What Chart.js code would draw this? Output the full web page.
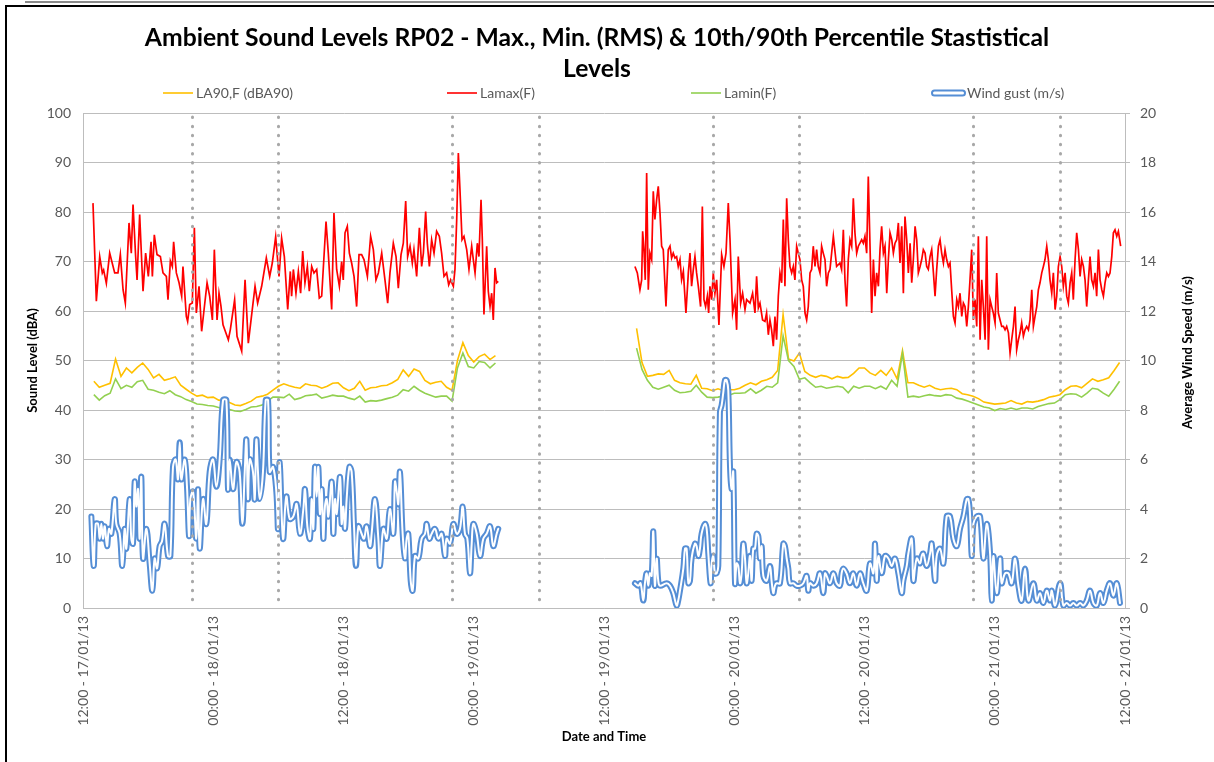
<!DOCTYPE html>
<html>
<head>
<meta charset="utf-8">
<script src="https://cdn.jsdelivr.net/npm/chart.js@4.4.1/dist/chart.umd.min.js"></script>
<style>
html,body{margin:0;padding:0;background:#fff;}
#wrap{position:relative;width:1214px;height:762px;overflow:hidden;background:#fff;}
#c{position:absolute;left:0;top:0;}
.rule{position:absolute;}
</style>
</head>
<body>
<div id="wrap">
<canvas id="c" width="1214" height="762"></canvas>
<div class="rule" style="left:25px;top:1px;width:1189px;height:2px;background:#8a8a8a"></div>
<div class="rule" style="left:5px;top:5px;width:1209px;height:2px;background:#000"></div>
<div class="rule" style="left:5px;top:5px;width:2px;height:757px;background:#000"></div>
</div>
<script>
// Time is in hours after 12:00 on 17/01/13.
// ---- x tick labels (every 12 h) ----
const xTickLabels = ["12:00 - 17/01/13","00:00 - 18/01/13","12:00 - 18/01/13","00:00 - 19/01/13",
  "12:00 - 19/01/13","00:00 - 20/01/13","12:00 - 20/01/13","00:00 - 21/01/13","12:00 - 21/01/13"];

// ---- night period boundaries (22:00 / 06:00), hours ----
const nightBoundaries = [10, 18, 34, 42, 58, 66, 82, 90];

// ---- 30-minute grid used by LA90 / Lamin ----
const gridStartLeft = 1.0, gridStartRight = 51.0, gridStep = 0.5;

// ---- LA90,F (dBA) ----
const la90Left = [45.8,44.6,45.0,45.4,50.3,46.8,48.5,47.5,48.6,49.5,48.2,46.5,47.2,46.0,46.3,46.7,45.0,44.2,43.4,42.8,
  43.0,42.5,42.6,42.0,41.9,41.5,41.0,40.9,41.3,41.8,42.6,42.8,43.2,44.0,44.8,45.3,44.9,
  44.6,44.4,45.3,45.0,44.9,44.4,44.8,45.4,45.5,44.5,43.9,44.4,45.8,44.0,44.5,44.6,44.9,45.0,45.5,46.2,
  48.1,46.8,48.3,47.8,46.0,45.3,45.6,45.8,44.6,44.0,50.0,53.6,51.0,49.7,50.8,51.3,50.2,51.0];
const la90Right = [56.5,49.6,46.8,47.0,47.3,47.2,48.0,46.0,45.5,45.3,45.2,47.0,44.4,44.3,43.9,44.3,43.9,44.1,44.1,44.4,
  45.0,45.5,45.1,45.8,46.1,46.6,48.0,59.3,50.3,49.9,51.5,47.8,47.0,46.6,47.0,46.8,46.3,46.8,46.5,46.6,
  47.4,48.5,48.5,47.5,47.0,48.0,47.0,48.5,46.3,52.0,45.5,45.5,45.0,44.6,45.0,44.4,44.1,44.3,44.4,44.1,
  43.3,43.1,42.8,42.3,41.6,41.4,41.2,41.3,41.4,41.9,41.4,41.2,41.7,41.6,41.8,42.1,42.6,42.8,43.1,44.1,
  44.8,44.9,44.5,45.4,46.3,45.8,46.1,46.5,48.0,49.6];

// ---- Lamin(F) (dBA) ----
const laminLeft = [43.1,42.0,42.9,43.4,46.3,44.3,45.0,44.6,45.7,46.0,44.2,44.0,43.6,43.3,43.9,43.1,42.7,42.1,41.7,41.2,
  41.1,40.9,40.8,40.5,40.3,40.1,39.8,39.7,40.1,40.6,40.7,41.0,41.8,42.6,42.6,42.5,43.2,
  42.1,42.4,42.9,43.0,43.2,42.4,42.7,43.0,42.8,42.8,42.4,42.1,42.8,41.6,41.9,41.8,42.0,42.3,42.6,43.0,
  44.1,43.8,44.8,44.0,43.4,43.0,42.6,42.8,42.8,41.8,48.5,51.5,48.8,48.5,49.8,49.6,48.5,49.5];
const laminRight = [52.5,48.2,46.0,44.6,44.2,44.6,45.0,44.0,43.5,43.6,43.8,45.0,43.6,42.6,42.5,42.6,42.8,43.0,43.4,43.4,
  43.5,44.3,43.4,44.0,44.8,44.6,45.5,55.0,50.0,48.8,46.2,46.5,45.5,44.6,44.8,44.4,44.6,44.8,44.6,43.5,
  44.8,44.4,44.8,44.8,44.3,44.8,44.2,46.0,44.8,51.5,42.6,42.8,42.6,42.9,43.1,42.9,42.8,43.1,43.0,42.4,
  42.2,41.8,41.4,41.0,40.6,40.4,39.9,40.3,40.1,40.4,40.1,40.4,40.4,40.2,40.7,41.0,41.3,41.4,42.1,43.1,
  43.3,43.2,42.6,43.4,44.4,44.2,43.4,42.8,44.2,45.8];

// ---- Lamax(F) (dBA): read at each visible turning point ----
const lamaxHoursLeft = [0.92,1.23,1.54,1.78,1.90,2.15,2.46,2.92,3.22,3.44,
  3.69,3.90,4.24,4.45,4.61,4.85,4.98,5.22,5.53,5.77,
  6.02,6.27,6.39,6.57,6.82,7.13,7.37,7.68,7.83,8.05,
  8.23,8.35,8.60,8.85,9.09,9.21,9.52,9.64,9.83,10.07,
  10.26,10.44,10.69,10.93,11.12,11.43,11.67,11.92,12.10,12.35,
  12.53,12.71,12.90,13.39,13.57,13.97,14.19,14.62,14.93,15.23,
  15.60,15.85,16.09,16.46,16.89,17.20,17.44,17.75,18.06,18.30,
  18.55,18.86,19.10,19.22,19.38,19.62,19.84,20.05,20.24,20.45,
  20.67,20.85,21.07,21.28,21.53,21.77,21.99,22.39,22.60,22.91,
  23.12,23.37,23.62,23.83,23.98,24.14,24.35,24.54,24.75,24.97,
  25.21,25.43,25.67,25.89,26.20,26.50,26.75,26.99,27.21,27.52,
  27.82,28.07,28.28,28.59,28.84,29.05,29.30,29.51,29.73,29.91,
  30.13,30.34,30.49,30.74,30.99,31.20,31.36,31.57,31.72,31.91,
  32.12,32.34,32.58,32.83,33.04,33.26,33.50,33.69,33.87,34.12,
  34.27,34.43,34.58,34.73,34.92,35.10,35.35,35.56,35.81,35.96,
  36.12,36.33,36.48,36.67,36.79,36.94,37.19,37.34,37.50,37.65,
  37.80,37.96,38.11,38.26];
const lamaxValuesLeft = [81.8,62.0,71.0,67.7,68.3,65.6,71.7,67.7,67.7,71.4,
  64.3,61.6,77.8,71.7,81.5,71.0,66.3,79.5,64.0,71.7,
  67.0,74.0,67.0,75.4,71.4,71.0,67.7,67.0,62.3,70.1,
  69.0,74.0,67.7,65.7,63.0,69.0,58.9,57.9,61.3,61.6,
  76.8,59.6,65.0,55.9,59.6,65.7,63.0,58.2,72.4,58.2,
  63.6,61.0,57.2,54.2,56.2,62.3,54.9,51.9,66.3,53.5,
  60.4,65.0,61.6,65.0,70.7,67.0,69.7,75.0,67.0,74.7,
  71.0,60.3,68.0,63.0,68.4,63.6,68.0,63.6,72.1,65.7,
  69.0,64.0,69.0,67.7,68.4,62.6,63.0,78.1,71.7,60.3,
  79.8,68.4,65.0,70.0,66.3,75.8,77.1,71.7,69.7,67.0,
  60.9,71.4,71.4,70.4,67.0,75.1,72.4,66.3,67.7,71.7,
  66.3,61.6,67.7,73.7,71.0,64.6,71.4,73.7,82.2,71.0,
  73.1,69.7,72.4,67.0,76.8,69.0,71.7,80.1,73.7,69.0,
  74.4,71.7,76.1,75.1,71.7,67.0,67.7,65.3,66.3,65.0,
  68.4,78.5,91.9,84.5,74.4,75.1,72.4,68.4,73.1,70.4,
  67.7,73.7,71.0,82.5,74.4,59.3,73.1,64.0,60.9,63.6,
  58.2,68.7,65.7,66.0];
const lamaxHoursRight = [50.85,51.07,51.31,51.47,51.56,51.68,51.80,51.93,52.08,52.23,
  52.39,52.54,52.69,52.85,53.00,53.16,53.31,53.46,53.71,53.92,
  54.08,54.23,54.38,54.54,54.69,54.84,55.00,55.15,55.31,55.55,
  55.77,55.92,56.07,56.23,56.38,56.53,56.69,56.90,57.06,57.21,
  57.36,57.52,57.64,57.76,57.92,58.07,58.22,58.38,58.59,58.84,
  59.05,59.24,59.45,59.61,59.85,60.07,60.22,60.37,60.59,60.77,
  60.99,61.14,61.45,61.69,61.91,62.06,62.22,62.37,62.61,62.83,
  62.98,63.14,63.29,63.44,63.60,63.75,63.90,64.06,64.21,64.37,
  64.52,64.67,64.83,64.98,65.13,65.29,65.44,65.59,65.75,65.90,
  66.05,66.21,66.36,66.52,66.67,66.82,66.98,67.13,67.28,67.44,
  67.59,67.74,67.90,68.05,68.20,68.36,68.51,68.67,68.82,69.13,
  69.43,69.74,69.89,70.05,70.20,70.35,70.51,70.66,70.82,70.97,
  71.12,71.28,71.43,71.58,71.74,71.89,72.04,72.20,72.35,72.66,
  72.82,72.97,73.12,73.28,73.43,73.58,73.74,73.89,74.05,74.20,
  74.35,74.51,74.66,74.81,74.97,75.12,75.27,75.43,75.58,75.73,
  75.89,76.04,76.20,76.35,76.50,76.66,76.81,76.96,77.12,77.27,
  77.42,77.58,77.73,77.88,78.04,78.19,78.35,78.50,78.65,78.81,
  78.96,79.11,79.27,79.42,79.57,79.73,79.88,80.03,80.19,80.34,
  80.50,80.65,80.80,80.96,81.11,81.26,81.42,81.57,81.72,81.88,
  82.03,82.18,82.34,82.49,82.65,82.80,82.95,83.11,83.26,83.41,
  83.57,83.72,83.87,84.03,84.18,84.33,84.49,84.64,84.80,84.95,
  85.10,85.26,85.41,85.56,85.72,85.87,86.02,86.18,86.33,86.48,
  86.64,86.79,86.94,87.10,87.25,87.41,87.56,87.71,87.87,88.02,
  88.17,88.33,88.48,88.63,88.79,88.94,89.09,89.25,89.40,89.56,
  89.71,89.86,90.02,90.17,90.32,90.48,90.63,90.78,90.94,91.09,
  91.24,91.40,91.55,91.71,91.86,92.01,92.17,92.32,92.47,92.63,
  92.78,92.93,93.09,93.24,93.39,93.55,93.70,93.86,94.01,94.16,
  94.32,94.47,94.62,94.78,94.93,95.08,95.24,95.39,95.60];
const lamaxValuesRight = [69.0,67.7,64.3,66.3,76.1,72.4,66.3,87.9,64.3,71.7,
  70.4,84.2,78.5,82.5,85.2,79.8,73.1,72.4,60.9,72.4,
  73.1,70.7,71.7,70.7,71.0,69.0,70.4,66.3,68.0,59.6,
  67.7,71.7,65.0,68.4,71.0,67.7,65.0,60.9,81.1,62.3,
  60.9,63.0,59.6,65.0,62.3,67.7,63.6,66.3,57.2,71.4,
  69.0,71.7,81.8,74.4,59.6,62.3,56.2,71.0,61.6,63.6,
  60.3,62.3,61.6,63.6,59.6,67.0,60.6,61.6,58.2,57.9,
  59.6,55.2,58.2,56.2,52.9,58.9,54.2,63.0,67.7,65.7,
  78.5,65.0,82.8,74.4,69.0,67.7,69.0,66.3,73.1,71.7,
  70.4,66.3,65.0,59.6,58.2,60.9,67.7,68.4,73.1,69.0,
  72.4,69.0,67.7,73.1,71.7,70.4,65.0,67.7,68.4,75.1,
  69.0,69.7,68.4,76.4,66.3,60.9,70.4,74.4,73.1,82.8,
  75.8,71.7,73.1,73.7,74.4,73.7,75.1,71.7,87.2,59.6,
  70.4,63.0,67.7,65.0,72.4,77.1,71.7,73.1,63.6,70.4,
  75.8,74.4,71.7,73.7,74.4,77.8,69.7,77.1,63.6,79.1,
  74.4,67.7,73.7,65.7,70.4,77.1,74.4,67.7,69.0,70.4,
  72.4,71.7,69.0,68.4,71.0,72.4,67.7,63.0,68.4,73.1,
  74.4,71.7,69.7,72.4,70.4,69.0,69.7,64.3,58.9,57.6,
  62.3,60.9,63.6,58.9,61.6,60.9,56.9,60.9,66.3,72.4,
  58.2,62.3,56.9,75.1,54.2,66.3,60.9,54.2,75.1,52.2,
  62.3,60.9,59.6,57.6,67.7,59.6,58.2,56.9,56.9,56.2,
  56.9,55.6,51.5,54.2,56.9,60.9,52.2,54.2,55.6,57.6,
  54.9,56.2,56.9,56.2,58.2,64.3,56.9,58.9,60.9,64.3,
  65.7,67.7,69.0,70.4,73.1,70.4,66.3,63.6,67.7,60.3,
  63.0,69.0,71.0,69.0,65.0,67.7,63.0,61.6,65.7,67.7,
  62.3,70.4,75.8,72.4,67.0,70.4,69.0,66.3,60.9,66.3,
  71.0,66.3,65.0,67.7,63.0,72.4,66.3,64.3,63.0,65.7,
  67.7,67.0,67.7,71.0,75.8,76.4,75.1,76.1,73.1];

// ---- Wind gust (m/s): read at each visible turning point ----
const windHoursLeft = [0.77,0.98,1.17,1.38,1.54,1.69,1.84,2.00,2.21,2.40,
  2.61,2.92,3.07,3.38,3.62,3.84,3.99,4.30,4.45,4.61,
  4.76,4.91,5.07,5.22,5.37,5.53,5.84,6.14,6.39,6.60,
  6.82,7.06,7.28,7.52,7.83,8.05,8.29,8.54,8.75,8.91,
  9.06,9.37,9.58,9.77,9.89,10.14,10.44,10.60,10.75,11.06,
  11.36,11.67,11.98,12.29,12.59,12.90,13.21,13.36,13.51,13.82,
  14.13,14.43,14.68,14.90,15.05,15.20,15.36,15.66,15.82,15.97,
  16.12,16.28,16.58,16.83,17.05,17.20,17.51,17.81,17.97,18.12,
  18.43,18.73,19.04,19.38,19.68,19.99,20.30,20.45,20.67,20.91,
  21.07,21.22,21.37,21.53,21.68,21.83,21.99,22.14,22.29,22.45,
  22.60,22.91,23.06,23.22,23.37,23.68,23.83,23.98,24.14,24.29,
  24.54,24.75,24.97,25.15,25.37,25.67,25.89,26.13,26.44,26.59,
  26.90,27.21,27.36,27.67,27.98,28.28,28.59,28.74,28.90,29.05,
  29.20,29.45,29.67,29.82,29.97,30.19,30.37,30.59,30.89,31.20,
  31.51,31.66,31.91,32.12,32.43,32.74,33.04,33.35,33.50,33.81,
  34.12,34.43,34.73,34.98,35.19,35.41,35.65,35.81,35.96,36.27,
  36.58,36.88,37.19,37.50,37.80,38.11,38.26];
const windValuesLeft = [3.7,1.7,3.4,3.4,2.8,3.4,2.8,3.3,2.5,3.2,
  3.0,4.4,3.4,3.0,1.7,3.2,2.4,4.4,2.8,2.6,
  5.1,4.1,4.8,2.8,5.3,2.0,3.2,1.8,0.7,2.0,
  1.6,2.5,2.7,3.4,2.1,2.1,5.7,6.0,5.2,6.7,
  5.2,6.0,4.9,2.9,4.4,4.7,2.8,4.8,2.4,4.4,
  3.4,5.5,6.0,4.9,6.0,8.4,8.4,4.8,6.0,4.8,
  5.9,5.5,3.4,5.5,6.8,4.4,6.0,5.5,4.4,6.8,
  5.5,4.4,5.5,8.4,8.4,5.5,5.7,4.7,3.2,5.9,
  2.8,4.5,3.6,3.7,4.2,3.0,4.0,4.8,3.3,2.8,
  4.4,3.2,5.7,4.5,5.7,3.8,4.8,2.8,4.1,4.4,
  3.7,5.1,3.0,4.4,3.8,5.3,3.4,4.1,3.2,4.4,
  5.7,5.5,3.3,1.7,3.3,3.0,2.8,3.3,2.5,3.0,
  4.4,2.8,1.7,3.2,2.8,4.0,3.0,5.1,4.7,4.2,
  5.5,3.0,2.0,2.8,3.0,1.1,0.7,2.1,2.0,2.8,
  3.0,3.4,2.8,3.0,3.2,2.8,3.0,2.1,2.8,2.6,
  3.4,3.0,3.2,4.1,3.0,2.8,1.4,2.6,3.4,3.0,
  2.1,2.8,3.0,3.3,2.5,3.0,3.2];
const windHoursRight = [50.85,51.16,51.37,51.62,51.77,51.93,52.08,52.23,52.39,52.54,
  52.69,52.85,53.00,53.16,53.77,54.08,54.38,54.69,54.84,55.00,
  55.31,55.46,55.61,55.77,55.92,56.07,56.38,56.53,56.69,56.84,
  56.99,57.30,57.46,57.61,57.82,57.92,58.07,58.22,58.38,58.53,
  58.68,58.84,58.99,59.14,59.30,59.45,59.61,59.76,59.91,60.07,
  60.22,60.37,60.53,60.68,60.83,60.99,61.14,61.29,61.45,61.60,
  61.75,61.91,62.06,62.22,62.37,62.52,62.68,62.98,63.29,63.44,
  63.60,63.75,63.90,64.21,64.52,64.67,64.83,64.98,65.13,65.44,
  65.75,66.05,66.36,66.67,66.82,66.98,67.28,67.59,67.90,68.20,
  68.36,68.51,68.82,69.13,69.43,69.74,69.89,70.05,70.35,70.66,
  70.97,71.28,71.58,71.89,72.20,72.51,72.82,72.97,73.12,73.28,
  73.58,73.89,74.20,74.51,74.81,75.12,75.43,75.58,75.89,76.04,
  76.35,76.50,76.81,77.12,77.27,77.42,77.73,78.04,78.19,78.50,
  78.65,78.96,79.27,79.57,79.88,80.19,80.50,80.80,81.11,81.42,
  81.57,81.72,81.88,82.03,82.34,82.65,82.95,83.26,83.57,83.72,
  83.87,84.18,84.49,84.64,84.95,85.26,85.56,85.87,86.18,86.48,
  86.79,87.10,87.56,87.87,88.17,88.48,88.79,89.09,89.25,89.56,
  90.02,90.32,90.63,90.94,91.24,91.55,91.86,92.17,92.47,92.78,
  93.09,93.40,93.70,94.01,94.32,94.62,94.93,95.24,95.54];
const windValuesRight = [1.0,0.9,1.0,0.3,1.0,1.4,0.9,1.4,1.3,3.1,
  0.9,2.0,1.1,0.9,1.0,0.9,0.6,0.1,0.3,0.7,
  1.6,2.4,2.4,1.0,1.1,2.0,2.6,2.5,2.1,2.4,
  3.0,3.4,3.2,2.2,1.0,1.8,2.1,1.4,1.4,1.7,
  7.9,8.2,8.7,9.2,9.2,8.8,5.7,4.8,5.5,1.0,
  1.8,1.7,1.0,1.4,2.6,2.0,1.0,1.4,2.1,1.1,
  2.4,2.4,3.0,2.9,2.0,2.5,1.3,1.1,1.7,1.1,
  0.6,0.9,1.0,1.0,2.6,2.5,2.0,1.6,1.0,1.0,
  0.9,0.9,1.0,1.3,0.7,1.0,0.9,1.0,1.4,0.6,
  1.4,1.3,1.0,1.4,1.0,0.9,1.4,1.6,1.4,1.0,
  1.4,0.9,1.4,1.0,0.7,1.8,1.4,2.6,1.1,2.1,
  1.4,2.1,2.0,1.7,2.0,1.4,0.6,1.1,1.7,2.2,
  2.8,1.1,2.0,1.8,2.1,2.2,1.7,2.2,2.6,1.1,
  2.1,2.4,1.8,3.7,3.7,2.8,2.5,3.2,3.7,4.4,
  4.4,3.8,2.1,3.4,3.7,3.7,2.0,3.4,2.2,0.3,
  2.1,0.6,2.0,1.0,1.4,1.4,1.0,2.0,0.9,0.3,
  1.6,0.3,1.0,0.3,0.6,0.2,0.7,0.3,0.7,0.1,
  1.0,0.1,0.2,0.1,0.2,0.1,0.2,0.1,0.3,0.7,
  0.2,0.1,0.6,0.2,0.7,1.0,0.5,1.0,0.2];

const GAP_AT = 44.5;

function gridPoints(left, right) {
  const pts = left.map((v, i) => ({x: gridStartLeft + i * gridStep, y: v}));
  pts.push({x: GAP_AT, y: null});
  right.forEach((v, i) => pts.push({x: gridStartRight + i * gridStep, y: v}));
  return pts;
}
function pairPoints(hL, vL, hR, vR) {
  const pts = [];
  const nL = Math.min(hL.length, vL.length), nR = Math.min(hR.length, vR.length);
  for (let i = 0; i < nL; i++) pts.push({x: hL[i], y: vL[i]});
  pts.push({x: GAP_AT, y: null});
  for (let i = 0; i < nR; i++) pts.push({x: hR[i], y: vR[i]});
  return pts;
}

const FONT = "Lato, 'Open Sans', 'Liberation Sans', sans-serif";
const TICK_COLOR = '#595959';
const GRID_COLOR = '#BDBDBD';

const windPoints = pairPoints(windHoursLeft, windValuesLeft, windHoursRight, windValuesRight);

const overlayPlugin = {
  id: 'overlay',
  afterDatasetsDraw(chart) {
    const {ctx, chartArea, scales} = chart;
    ctx.save();
    ctx.strokeStyle = '#A8A8A8';
    ctx.lineWidth = 3;
    ctx.lineCap = 'round';
    ctx.setLineDash([0.5, 8.6]);
    nightBoundaries.forEach(h => {
      const px = Math.round(scales.x.getPixelForValue(h)) + 0.5;
      ctx.beginPath();
      ctx.moveTo(px, chartArea.top + 4);
      ctx.lineTo(px, chartArea.bottom);
      ctx.stroke();
    });
    ctx.restore();
  },
  afterDraw(chart) {
    const {ctx} = chart;
    const ds = chart.data.datasets;
    const itemX = [163, 447, 691, 932];
    const y = 93;
    ctx.save();
    ctx.font = '14px ' + FONT;
    ctx.textBaseline = 'middle';
    ctx.textAlign = 'left';
    for (let i = 0; i < 4; i++) {
      const d = ds[i];
      const x0 = itemX[i];
      if (i === 3) {
        ctx.beginPath();
        ctx.lineWidth = 2;
        ctx.strokeStyle = d.borderColor;
        ctx.fillStyle = '#fff';
        ctx.roundRect(x0, y - 2.5, 33, 5, 2.5);
        ctx.fill();
        ctx.stroke();
        ctx.fillStyle = TICK_COLOR;
        ctx.fillText(d.label, x0 + 35, y);
      } else {
        ctx.beginPath();
        ctx.lineWidth = 1.6;
        ctx.strokeStyle = d.borderColor;
        ctx.moveTo(x0, y);
        ctx.lineTo(x0 + 30, y);
        ctx.stroke();
        ctx.fillStyle = TICK_COLOR;
        ctx.fillText(d.label, x0 + 33, y);
      }
    }
    // right axis title (reads bottom-to-top)
    ctx.translate(1188, (chart.chartArea.top + chart.chartArea.bottom) / 2 - 8);
    ctx.rotate(-Math.PI / 2);
    ctx.font = 'bold 13px ' + FONT;
    ctx.fillStyle = '#000';
    ctx.textAlign = 'center';
    ctx.fillText('Average Wind Speed (m/s)', 0, 0);
    ctx.restore();
  }
};

new Chart(document.getElementById('c'), {
  type: 'line',
  data: {
    datasets: [
      {label: 'LA90,F (dBA90)', data: gridPoints(la90Left, la90Right), borderColor: '#FFC000', backgroundColor: '#FFC000',
        borderWidth: 1.6, pointRadius: 0, yAxisID: 'y', order: 4, tension: 0},
      {label: 'Lamax(F)', data: pairPoints(lamaxHoursLeft, lamaxValuesLeft, lamaxHoursRight, lamaxValuesRight),
        borderColor: '#FF0000', backgroundColor: '#FF0000',
        borderWidth: 1.7, pointRadius: 0, yAxisID: 'y', order: 3, tension: 0},
      {label: 'Lamin(F)', data: gridPoints(laminLeft, laminRight), borderColor: '#92D050', backgroundColor: '#92D050',
        borderWidth: 1.6, pointRadius: 0, yAxisID: 'y', order: 2, tension: 0},
      {label: 'Wind gust (m/s)', data: windPoints, borderColor: '#558ED5', backgroundColor: '#558ED5',
        borderWidth: 6, pointRadius: 0, yAxisID: 'y1', order: 1, tension: 0.4,
        borderCapStyle: 'round', borderJoinStyle: 'round'},
      {label: 'wind-inner', data: windPoints, borderColor: '#FFFFFF', backgroundColor: '#FFFFFF',
        borderWidth: 2, pointRadius: 0, yAxisID: 'y1', order: 0, tension: 0.4,
        borderCapStyle: 'round', borderJoinStyle: 'round'}
    ]
  },
  options: {
    responsive: false,
    animation: false,
    events: [],
    layout: {padding: {left: 0, right: 20, top: 0, bottom: 0}},
    plugins: {
      legend: {display: false},
      tooltip: {enabled: false},
      title: {
        display: true,
        text: ['Ambient Sound Levels RP02 - Max., Min. (RMS) & 10th/90th Percentile Stastistical', 'Levels'],
        color: '#000',
        font: {family: FONT, size: 24.7, weight: 'bold', lineHeight: 1.26},
        padding: {top: 22.4, bottom: 28.4}
      }
    },
    scales: {
      x: {
        type: 'linear', min: 0, max: 96,
        ticks: {stepSize: 12, autoSkip: false, maxRotation: 90, minRotation: 90, padding: 8,
          color: TICK_COLOR, font: {family: FONT, size: 14},
          callback: (v) => xTickLabels[Math.round(v / 12)]},
        grid: {drawOnChartArea: false, drawTicks: false},
        border: {display: true, color: GRID_COLOR, width: 1},
        title: {display: true, text: 'Date and Time', color: '#000',
          font: {family: FONT, size: 13, weight: 'bold'}, padding: {top: 0, bottom: 17}},
        afterFit(s) { s.height = 154; }
      },
      y: {
        position: 'left', min: 0, max: 100,
        ticks: {stepSize: 10, padding: 12, color: TICK_COLOR, font: {family: FONT, size: 14}},
        grid: {color: GRID_COLOR, drawTicks: false},
        border: {display: true, color: GRID_COLOR},
        title: {display: true, text: 'Sound Level (dBA)', color: '#000',
          font: {family: FONT, size: 13, weight: 'bold'}, padding: {top: 25, bottom: 0}},
        afterFit(s) { s.width = 83; }
      },
      y1: {
        position: 'right', min: 0, max: 20,
        ticks: {stepSize: 2, padding: 10, color: TICK_COLOR, font: {family: FONT, size: 14}},
        grid: {drawOnChartArea: false, drawTicks: true, tickLength: 5, color: GRID_COLOR},
        border: {display: true, color: GRID_COLOR},
        afterFit(s) { s.width = 69; }
      }
    }
  },
  plugins: [overlayPlugin]
});
</script>
</body>
</html>
